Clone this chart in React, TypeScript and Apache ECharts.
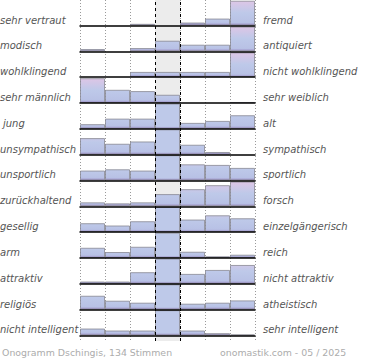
import React, { useEffect, useRef } from "react";
import * as echarts from "echarts";

// Semantic-differential pairs (left / right)
const leftLabels = [
  "sehr vertraut", "modisch", "wohlklingend", "sehr männlich", "jung", "unsympathisch",
  "unsportlich", "zurückhaltend", "gesellig", "arm", "attraktiv", "religiös", "nicht intelligent",
];
const rightLabels = [
  "fremd", "antiquiert", "nicht wohlklingend", "sehr weiblich", "alt", "sympathisch",
  "sportlich", "forsch", "einzelgängerisch", "reich", "nicht attraktiv", "atheistisch", "sehr intelligent",
];
const scaleSteps = ["1", "2", "3", "4", "5", "6", "7"];

// Vote shares per scale step (row full height = 25)
const vertrautFremd = [0, 0, 1.7, 0, 3, 7, 25];
const modischAntiquiert = [2.3, 0, 3.3, 10.7, 6.7, 6.7, 25];
const wohlklingend = [0, 0, 5.3, 5.3, 5.3, 5.3, 25];
const maennlichWeiblich = [25, 13.3, 12, 8.3, 0, 0, 1];
const jungAlt = [4.7, 10.3, 10.3, 32, 6, 8, 13.7];
const sympathisch = [16.7, 11, 13.3, 32, 10, 2.7, 0];
const sportlich = [10, 11.3, 10, 32, 16.3, 15.7, 12.7];
const forsch = [4, 3, 4, 12.3, 17.3, 21.3, 25];
const gesellig = [9, 6.7, 11, 32, 12.7, 17, 14];
const armReich = [10.3, 6, 11.3, 32, 6.3, 1.7, 3.3];
const attraktiv = [2.3, 2.3, 11.7, 32, 10, 14, 19];
const religioes = [14, 9, 7, 32, 6, 7, 9.3];
const intelligent = [7, 5, 5, 32, 5, 2.3, 1];

const rows = [
  vertrautFremd, modischAntiquiert, wohlklingend, maennlichWeiblich, jungAlt, sympathisch,
  sportlich, forsch, gesellig, armReich, attraktiv, religioes, intelligent,
];

const footerLeft = "Onogramm Dschingis, 134 Stimmen";
const footerRight = "onomastik.com - 05 / 2025";

// layout
const PLOT_LEFT = 80;
const PLOT_WIDTH = 175;
const FIRST_BASE = 25.5;
const PITCH = 25.83;
const ROW_H = 24.8;
const ROW_MAX = 25;
const MIDDLE = 3;

const BLUE = [190, 201, 233];
const PINK = [221, 198, 230];
const PURPLE = "#9d90c6";

function mix(a: number[], b: number[], t: number) {
  const c = a.map((v, i) => Math.round(v + (b[i] - v) * t));
  return `rgb(${c[0]},${c[1]},${c[2]})`;
}

function barItem(v: number, col: number) {
  if (!v) return { value: 0, itemStyle: { borderWidth: 0, color: "rgba(0,0,0,0)" } };
  const blue = mix(BLUE, BLUE, 0);
  let stops;
  if (col === MIDDLE && v > ROW_MAX) {
    stops = [
      { offset: 0, color: blue },
      { offset: 1 - 2.5 / v, color: blue },
      { offset: 1, color: PURPLE },
    ];
  } else if (v <= 3) {
    stops = [
      { offset: 0, color: "#b3b6de" },
      { offset: 1, color: PURPLE },
    ];
  } else {
    const h = Math.min(v, ROW_MAX);
    const t = Math.max(0, Math.min(1, (h - 13) / 12));
    stops = [{ offset: 0, color: mix(BLUE, PINK, t) }];
    if (h > 13) stops.push({ offset: (h - 13) / h, color: blue });
    stops.push({ offset: 1 - 2.5 / h, color: "rgb(184,193,229)" });
    stops.push({ offset: 1, color: PURPLE });
  }
  return {
    value: v,
    itemStyle: {
      color: new echarts.graphic.LinearGradient(0, 0, 0, 1, stops),
      borderColor: "rgba(130,130,140,0.75)",
      borderWidth: 1,
    },
  };
}

export default function App() {
  const ref = useRef<HTMLDivElement>(null);
  useEffect(() => {
    if (!ref.current) return;
    const chart = echarts.init(ref.current, null, { renderer: "svg" });
    const baseOf = (i: number) => FIRST_BASE + PITCH * i;

    const grids: any[] = [{ left: PLOT_LEFT, width: PLOT_WIDTH, top: 0, height: 341 }];
    const xAxes: any[] = [
      {
        gridIndex: 0, type: "value", min: 0, max: 7, interval: 1,
        axisLine: { show: false }, axisTick: { show: false }, axisLabel: { show: false },
        splitLine: { show: true, lineStyle: { color: "#9a9a9a", width: 1, type: [1, 2] } },
      },
    ];
    const yAxes: any[] = [{ gridIndex: 0, type: "value", min: 0, max: 1, show: false }];
    const series: any[] = [
      {
        type: "line", xAxisIndex: 0, yAxisIndex: 0, data: [], z: 0, silent: true,
        markArea: {
          silent: true,
          itemStyle: { color: "#ececec" },
          data: [[{ xAxis: MIDDLE }, { xAxis: MIDDLE + 1 }]],
        },
      },
      {
        type: "line", xAxisIndex: 0, yAxisIndex: 0, data: [], z: 10, silent: true,
        markLine: {
          silent: true, symbol: "none", label: { show: false },
          lineStyle: { color: "#000", width: 1, type: [3, 3] },
          data: [{ xAxis: MIDDLE }, { xAxis: MIDDLE + 1 }],
        },
      },
    ];
    const graphic: any[] = [];
    const labelFont = "oblique 10px 'DejaVu Sans'";

    rows.forEach((vals, i) => {
      const gi = i + 1;
      const base = baseOf(i);
      grids.push({ left: PLOT_LEFT, width: PLOT_WIDTH, top: base - ROW_H, height: ROW_H });
      xAxes.push({
        gridIndex: gi, type: "category", data: scaleSteps, boundaryGap: true,
        axisLine: { show: true, lineStyle: { color: "#000", width: 1.5 } },
        axisTick: { show: false }, axisLabel: { show: false }, splitLine: { show: false },
        z: 6,
      });
      yAxes.push({ gridIndex: gi, type: "value", min: 0, max: ROW_MAX, show: false });
      series.push({
        type: "bar", xAxisIndex: gi, yAxisIndex: gi, barCategoryGap: 0, barGap: 0,
        clip: true, z: 2, silent: true,
        data: vals.map((v, c) => barItem(v, c)),
      });
      graphic.push({
        type: "text", x: i === 4 ? 3 : 0, y: base - 5.5,
        style: {
          text: leftLabels[i], x: 0, y: 0, fill: "#555", font: labelFont,
          textAlign: "left", textVerticalAlign: "middle",
        },
      });
      graphic.push({
        type: "text", x: 263, y: base - 5.5,
        style: {
          text: rightLabels[i], x: 0, y: 0, fill: "#555", font: labelFont,
          textAlign: "left", textVerticalAlign: "middle",
        },
      });
    });

    graphic.push({
      type: "text", x: 2, y: 352,
      style: {
        text: footerLeft, x: 0, y: 0, fill: "#acacac", font: "9.4px 'DejaVu Sans'",
        textAlign: "left", textVerticalAlign: "middle",
      },
    });
    graphic.push({
      type: "text", x: 220, y: 352,
      style: {
        text: footerRight, x: 0, y: 0, fill: "#acacac", font: "9.4px 'DejaVu Sans'",
        textAlign: "left", textVerticalAlign: "middle",
      },
    });

    chart.setOption({
      animation: false,
      grid: grids,
      xAxis: xAxes,
      yAxis: yAxes,
      series,
      graphic,
    });
    return () => chart.dispose();
  }, []);
  return (
    <div
      ref={ref}
      style={{ width: 370, height: 360, position: "absolute", left: 0, top: 0 }}
    />
  );
}
